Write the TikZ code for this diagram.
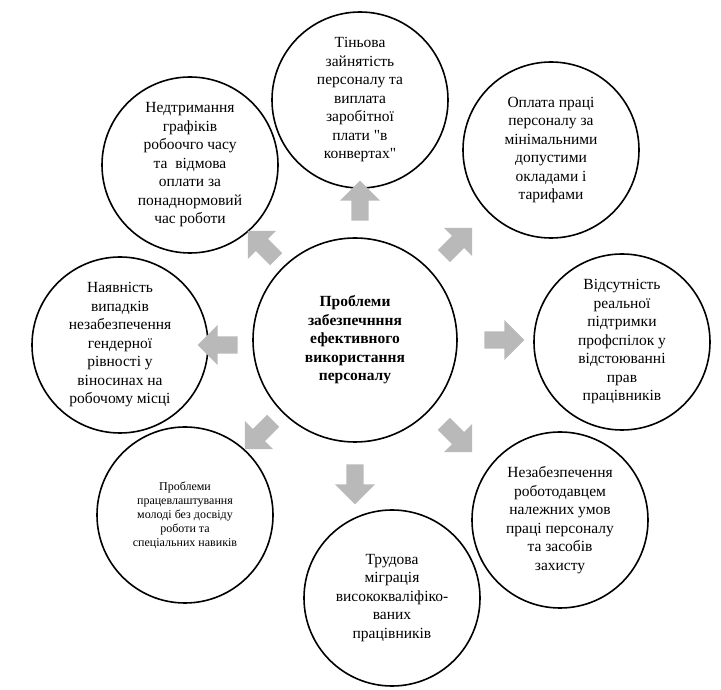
\documentclass[tikz,border=0pt]{standalone}
\usepackage{fontspec}
\setmainfont{Liberation Serif}
\newfontfamily\plainq{Liberation Serif}
\newcommand{\sq}{{\plainq"}}
\usetikzlibrary{shapes.arrows}
\begin{document}
\begin{tikzpicture}[x=1pt,y=1pt,
 circ/.style={circle,draw,line width=1.6pt,minimum size=176pt,align=center,inner sep=0pt,font=\fontsize{15.5}{18.5}\selectfont},
 arr/.style={single arrow,fill=gray!55,draw=none,minimum height=40pt,minimum width=40pt,single arrow head extend=7pt,inner sep=5pt}]
\useasboundingbox (0,0) rectangle (721,689);
\node[circ,minimum size=204pt,font=\bfseries\fontsize{15.5}{18.5}\selectfont] (c) at (355,349) {Проблеми\\забезпечнння\\ефективного\\використання\\персоналу};
\node[circ] (t) at (360,589) {Тіньова\\зайнятість\\персоналу та\\виплата\\заробітної\\плати \sq в\\конвертах\sq};
\node[circ] (tr) at (551,539) {Оплата праці\\персоналу за\\мінімальними\\допустими\\окладами і\\тарифами};
\node[circ] (r) at (622,347) {Відсутність\\реальної\\підтримки\\профспілок у\\відстоюванні\\прав\\працівників};
\node[circ] (br) at (560,169) {Незабезпечення\\роботодавцем\\належних умов\\праці персоналу\\та засобів\\захисту};
\node[circ] (b) at (392,91) {Трудова\\міграція\\висококваліфіко-\\ваних\\працівників};
\node[circ,font=\fontsize{12}{14}\selectfont] (bl) at (185,174) {Проблеми\\працевлаштування\\молоді без досвіду\\роботи та\\спеціальних навиків};
\node[circ] (l) at (120,344) {Наявність\\випадків\\незабезпечення\\гендерної\\рівності у\\віносинах на\\робочому місці};
\node[circ] (tl) at (190,524) {Недтримання\\графіків\\робоочго часу\\та \ відмова\\оплати за\\понаднормовий\\час роботи};
\node[arr,rotate=90] (a1) at (360,484) {};
\node[arr,rotate=45] (a2) at (455,444) {};
\node[arr,rotate=0] (a3) at (500,349) {};
\node[arr,rotate=-45] (a4) at (455,254) {};
\node[arr,rotate=-90] (a5) at (355,209) {};
\node[arr,rotate=-135] (a6) at (262,257) {};
\node[arr,rotate=180] (a7) at (222,344) {};
\node[arr,rotate=135] (a8) at (265,441) {};
\end{tikzpicture}
\end{document}
